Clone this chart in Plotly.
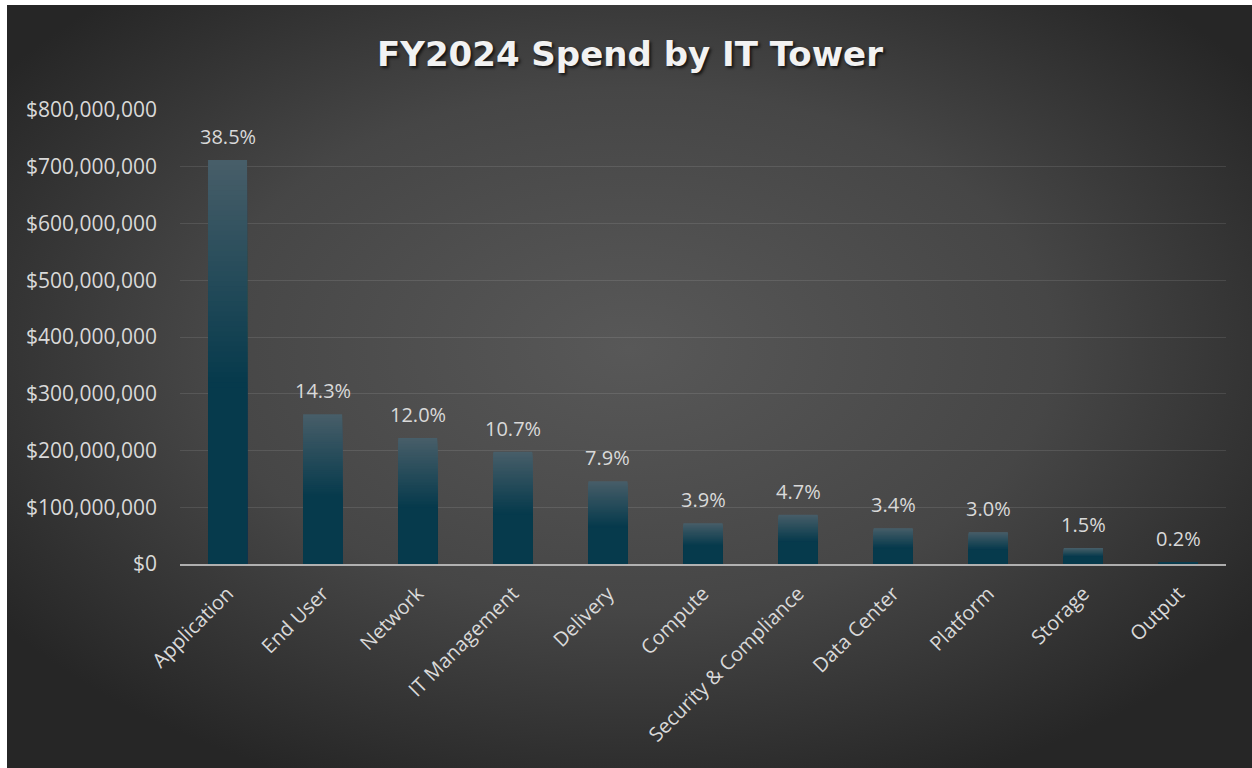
import base64
import plotly.graph_objects as go

# ---- data ----
categories = ["Application", "End User", "Network", "IT Management", "Delivery",
              "Compute", "Security & Compliance", "Data Center", "Platform",
              "Storage", "Output"]
spend = [712e6, 264e6, 222e6, 198e6, 146e6, 72e6, 87e6, 63e6, 56e6, 28e6, 3.7e6]
share_labels = ["38.5%", "14.3%", "12.0%", "10.7%", "7.9%", "3.9%", "4.7%",
                "3.4%", "3.0%", "1.5%", "0.2%"]
y_ticks = [0, 100e6, 200e6, 300e6, 400e6, 500e6, 600e6, 700e6, 800e6]
title_text = "FY2024 Spend by IT Tower"

# ---- layout geometry ----
W, H = 1252, 768
ML, MR, MT, MB = 180, 26, 110, 204
PW, PH = W - ML - MR, H - MT - MB
FONT = "Open Sans, Segoe UI, sans-serif"
TXT = "#d9d9d9"
BL, BT = 7, 5  # white border left / top

# background radial gradient (SVG image)
svg = f'''<svg xmlns="http://www.w3.org/2000/svg" width="1245" height="763" viewBox="0 0 1245 763" preserveAspectRatio="none">
<defs><radialGradient id="g" cx="50%" cy="45%" r="62%">
<stop offset="0%" stop-color="#585858"/><stop offset="55%" stop-color="#464646"/>
<stop offset="100%" stop-color="#262626"/></radialGradient></defs>
<rect width="1245" height="763" fill="url(#g)"/></svg>'''
bg_uri = "data:image/svg+xml;base64," + base64.b64encode(svg.encode()).decode()

fig = go.Figure()

# vertical gradient in bars via overlaid layers
top_c = (72, 94, 105)
dark_c = (6, 58, 76)
N = 80
fade = 0.55
layers = int(N * fade) + 1
for k in range(layers + 1):
    frac = 1 - k / N
    d = (k + 0.5) / N
    t = min(d / fade, 1.0) if k < layers else 1.0
    c = tuple(round(top_c[i] + (dark_c[i] - top_c[i]) * t) for i in range(3))
    fig.add_trace(go.Bar(
        x=categories,
        y=[v * frac for v in spend],
        marker=dict(color=f"rgb{c}", line=dict(width=0)),
        hoverinfo="skip" if k else None,
        showlegend=False,
    ))

# percentage labels above bars
for cat, val, lab in zip(categories, spend, share_labels):
    fig.add_annotation(x=cat, y=val, text=lab, showarrow=False,
                       yanchor="bottom", yshift=8,
                       font=dict(family=FONT, size=20, color=TXT))

# white page border (left and top)
px = lambda p: (p - ML) / PW
py = lambda p: (H - MB - p) / PH
fig.add_shape(type="rect", xref="paper", yref="paper", x0=px(-2), x1=px(BL),
              y0=py(H + 2), y1=py(-2), fillcolor="white", line_width=0, layer="below")
fig.add_shape(type="rect", xref="paper", yref="paper", x0=px(-2), x1=px(W + 2),
              y0=py(BT), y1=py(-2), fillcolor="white", line_width=0, layer="below")

fig.update_layout(
    width=W, height=H,
    margin=dict(l=ML, r=MR, t=MT, b=MB),
    paper_bgcolor="#262626",
    plot_bgcolor="rgba(0,0,0,0)",
    barmode="overlay",
    bargap=0.59,
    title=dict(text=f"<b>{title_text}</b>", x=(630 - ML) / PW, xref="paper", xanchor="center",
               y=1 - 54 / H, yanchor="middle",
               font=dict(family="DejaVu Sans, sans-serif", size=34, color="#f2f2f2",
                         shadow="2px 2px 3px rgba(0,0,0,0.7)")),
    font=dict(family=FONT, color=TXT),
    images=[dict(source=bg_uri, xref="paper", yref="paper",
                 x=px(BL), y=py(BT),
                 sizex=(W - BL) / PW, sizey=(H - BT) / PH,
                 xanchor="left", yanchor="top", sizing="stretch", layer="below")],
)
fig.update_yaxes(range=[0, 800e6], tickvals=y_ticks, tickformat="$,.0f",
                 tickfont=dict(family=FONT, size=21, color=TXT),
                 gridcolor="rgba(255,255,255,0.10)", gridwidth=1,
                 zeroline=False, showline=False, ticklabelstandoff=22)
fig.update_xaxes(tickangle=-45, tickfont=dict(family=FONT, size=20, color=TXT),
                 showline=True, linecolor="rgba(205,205,205,0.8)", linewidth=2,
                 showgrid=False, ticks="", ticklabelstandoff=8)

fig.write_html("out.html", config={"displayModeBar": False},
               post_script="document.body.style.margin='0';"
                           "document.body.style.overflow='hidden';"
                           "document.body.style.background='#262626';"
                           "document.documentElement.style.background='#262626';")
